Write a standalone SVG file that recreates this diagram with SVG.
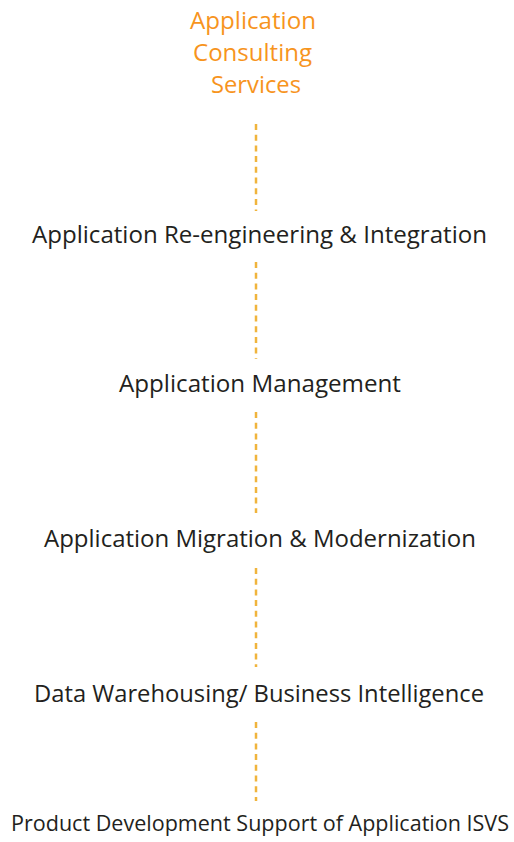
<svg xmlns="http://www.w3.org/2000/svg" width="514" height="842" viewBox="0 0 514 842">
<style>
.t{font-family:"Open Sans","Liberation Sans",sans-serif;font-size:24.5px;fill:#231f20}
.o{fill:#f7941d;font-size:23.5px}
.c{stroke:#f0b43c;stroke-width:2.5;stroke-dasharray:6 4.7;fill:none}
</style>
<rect width="514" height="842" fill="#fff"/>
<g id="connectors">
<line class="c" x1="256" y1="124" x2="256" y2="211"/>
<line class="c" x1="256" y1="262" x2="256" y2="359"/>
<line class="c" x1="256" y1="412" x2="256" y2="513"/>
<line class="c" x1="256" y1="568" x2="256" y2="667"/>
<line class="c" x1="256" y1="722" x2="256" y2="801"/>
</g>
<g id="n0">
<text class="t o" x="190" y="28.5" textLength="126" lengthAdjust="spacingAndGlyphs">Application</text>
<text class="t o" x="193" y="60.5" textLength="119" lengthAdjust="spacingAndGlyphs">Consulting</text>
<text class="t o" x="211" y="92.5" textLength="90" lengthAdjust="spacingAndGlyphs">Services</text>
</g>
<g id="n1"><text class="t" x="32" y="243" textLength="455" lengthAdjust="spacingAndGlyphs">Application Re-engineering &amp; Integration</text></g>
<g id="n2"><text class="t" x="119" y="391.5" textLength="282" lengthAdjust="spacingAndGlyphs">Application Management</text></g>
<g id="n3"><text class="t" x="44" y="547" textLength="432" lengthAdjust="spacingAndGlyphs">Application Migration &amp; Modernization</text></g>
<g id="n4"><text class="t" x="34" y="702" textLength="450" lengthAdjust="spacingAndGlyphs">Data Warehousing/ Business Intelligence</text></g>
<g id="n5"><text class="t" style="font-size:21.5px" x="11" y="831" textLength="498" lengthAdjust="spacingAndGlyphs">Product Development Support of Application ISVS</text></g>
</svg>
